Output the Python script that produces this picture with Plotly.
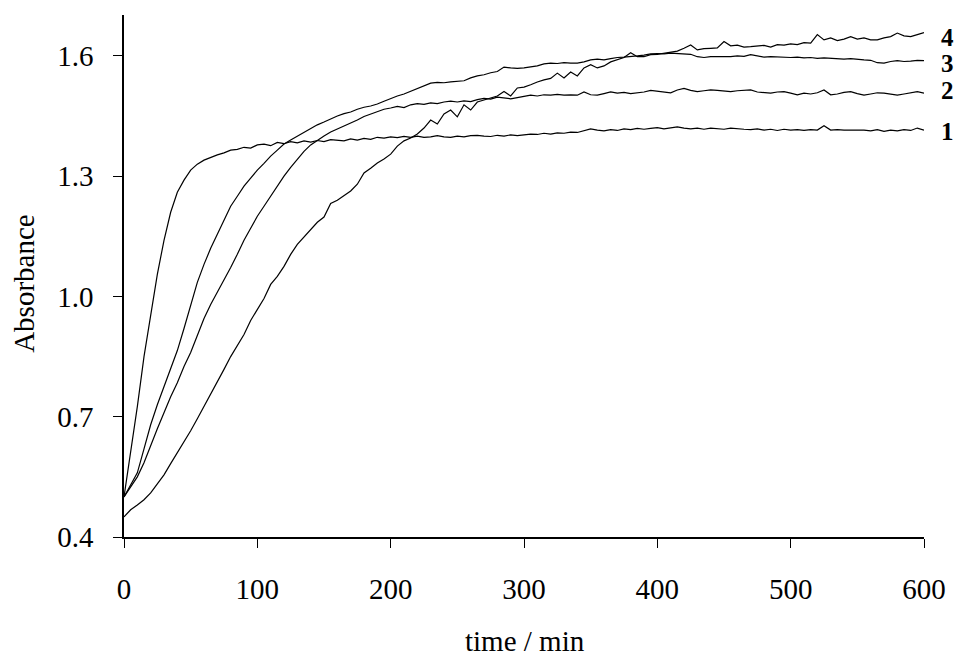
import plotly.graph_objects as go

# time grid (min), every 5 min
time_min = list(range(0, 601, 5))

curve_1 = [
    0.500, 0.610, 0.725, 0.850, 0.955, 1.055, 1.140, 1.210, 1.260, 1.290,
    1.315, 1.330, 1.340, 1.347, 1.353, 1.358, 1.365, 1.367, 1.372, 1.370,
    1.378, 1.380, 1.376, 1.384, 1.381, 1.386, 1.383, 1.388, 1.385, 1.389,
    1.386, 1.391, 1.390, 1.388, 1.393, 1.390, 1.394, 1.392, 1.397, 1.395,
    1.398, 1.396, 1.399, 1.397, 1.400, 1.397, 1.398, 1.401, 1.398, 1.397,
    1.400, 1.398, 1.401, 1.402, 1.400, 1.399, 1.402, 1.400, 1.403, 1.401,
    1.403, 1.405, 1.404, 1.407, 1.405, 1.408, 1.407, 1.410, 1.409, 1.414,
    1.418, 1.415, 1.413, 1.416, 1.414, 1.418, 1.416, 1.419, 1.417, 1.419,
    1.421, 1.418, 1.420, 1.423, 1.420, 1.418, 1.420, 1.417, 1.420, 1.418,
    1.417, 1.420, 1.418, 1.417, 1.416, 1.418, 1.415, 1.417, 1.414, 1.417,
    1.415, 1.416, 1.414, 1.416, 1.415, 1.426, 1.415, 1.416, 1.415, 1.415,
    1.414, 1.415, 1.413, 1.416, 1.412, 1.415, 1.413, 1.416, 1.414, 1.420,
    1.415,
]

curve_2 = [
    0.500, 0.525, 0.550, 0.585, 0.630, 0.670, 0.710, 0.750, 0.785, 0.825,
    0.860, 0.905, 0.945, 0.980, 1.010, 1.040, 1.072, 1.105, 1.140, 1.170,
    1.200, 1.225, 1.250, 1.278, 1.300, 1.322, 1.343, 1.362, 1.378, 1.390,
    1.400, 1.410, 1.417, 1.425, 1.432, 1.440, 1.449, 1.455, 1.462, 1.467,
    1.470, 1.474, 1.471, 1.478, 1.481, 1.479, 1.483, 1.481, 1.485, 1.487,
    1.485, 1.488, 1.486, 1.491, 1.494, 1.492, 1.497, 1.495, 1.493, 1.496,
    1.499, 1.502, 1.500, 1.503, 1.502, 1.504, 1.502, 1.503, 1.502, 1.510,
    1.503, 1.502, 1.506, 1.510, 1.507, 1.509, 1.506, 1.508, 1.510, 1.514,
    1.512, 1.511, 1.508, 1.515, 1.519, 1.514, 1.511, 1.513, 1.515, 1.514,
    1.512, 1.511, 1.513, 1.514, 1.515, 1.510, 1.508, 1.507, 1.510, 1.511,
    1.507, 1.503, 1.507, 1.505, 1.508, 1.515, 1.503, 1.505, 1.509, 1.511,
    1.506, 1.502, 1.505, 1.508, 1.507, 1.504, 1.502, 1.505, 1.508, 1.511,
    1.507,
]

curve_3 = [
    0.500, 0.530, 0.560, 0.620, 0.680, 0.730, 0.775, 0.820, 0.865, 0.920,
    0.980, 1.035, 1.080, 1.120, 1.155, 1.190, 1.225, 1.250, 1.275, 1.295,
    1.315, 1.332, 1.350, 1.365, 1.380, 1.390, 1.400, 1.410, 1.420, 1.428,
    1.435, 1.443, 1.450, 1.456, 1.460, 1.467, 1.472, 1.475, 1.480, 1.487,
    1.494, 1.500, 1.505, 1.512, 1.520, 1.527, 1.532, 1.534, 1.533, 1.535,
    1.536, 1.538, 1.545, 1.550, 1.553, 1.558, 1.561, 1.572, 1.570, 1.569,
    1.570, 1.572, 1.575, 1.580, 1.582, 1.581, 1.583, 1.582, 1.582, 1.585,
    1.590, 1.592, 1.590, 1.593, 1.596, 1.597, 1.598, 1.600, 1.602, 1.605,
    1.606, 1.605, 1.607, 1.606, 1.605, 1.604, 1.598, 1.596, 1.598, 1.598,
    1.599, 1.598, 1.600, 1.599, 1.603, 1.600, 1.597, 1.598, 1.597, 1.596,
    1.596, 1.597, 1.595, 1.596, 1.594, 1.595, 1.594, 1.593, 1.592, 1.593,
    1.591, 1.590, 1.589, 1.583, 1.582, 1.586, 1.588, 1.586, 1.587, 1.589,
    1.588,
]

curve_4 = [
    0.450, 0.468, 0.480, 0.493, 0.510, 0.533, 0.555, 0.583, 0.610, 0.635,
    0.665, 0.695, 0.725, 0.755, 0.787, 0.818, 0.850, 0.878, 0.905, 0.940,
    0.968, 0.995, 1.030, 1.050, 1.075, 1.105, 1.130, 1.148, 1.168, 1.185,
    1.198, 1.232, 1.240, 1.252, 1.263, 1.280, 1.308, 1.320, 1.333, 1.343,
    1.355, 1.375, 1.388, 1.395, 1.405, 1.420, 1.440, 1.430, 1.455, 1.465,
    1.448, 1.478, 1.465, 1.485, 1.490, 1.494, 1.500, 1.511, 1.500, 1.520,
    1.522, 1.528, 1.535, 1.540, 1.544, 1.557, 1.545, 1.560, 1.550, 1.570,
    1.578, 1.570, 1.575, 1.585, 1.590, 1.596, 1.608, 1.598, 1.598, 1.603,
    1.604, 1.607, 1.610, 1.612, 1.619, 1.627, 1.615, 1.618, 1.619, 1.620,
    1.636, 1.625, 1.627, 1.622, 1.623, 1.625, 1.626, 1.622, 1.628, 1.627,
    1.630, 1.628, 1.633, 1.632, 1.653, 1.640, 1.645, 1.638, 1.642, 1.648,
    1.642, 1.645, 1.640, 1.640, 1.645, 1.648, 1.657, 1.650, 1.648, 1.653,
    1.658,
]

curve_names = ["1", "2", "3", "4"]
label_y = [1.412, 1.513, 1.581, 1.645]
x_ticks = [0, 100, 200, 300, 400, 500, 600]
y_ticks = [0.4, 0.7, 1.0, 1.3, 1.6]
y_tick_text = ["0.4", "0.7", "1.0", "1.3", "1.6"]
X_RANGE = [0, 600]
Y_RANGE = [0.4, 1.702]

FONT = "Liberation Serif, Times New Roman, serif"

fig = go.Figure()
for name, vals in zip(curve_names, [curve_1, curve_2, curve_3, curve_4]):
    fig.add_trace(go.Scatter(
        x=time_min, y=vals, mode="lines", name=name,
        line=dict(color="black", width=1.2), showlegend=False,
    ))

# curve labels just right of the plot area (paper coords, since they lie outside the x range)
for name, yv in zip(curve_names, label_y):
    ypaper = (yv - Y_RANGE[0]) / (Y_RANGE[1] - Y_RANGE[0])
    fig.add_annotation(x=1.029, y=ypaper, xref="paper", yref="paper", text=f"<b>{name}</b>",
                       showarrow=False, xanchor="center", yanchor="middle",
                       font=dict(family=FONT, size=25, color="black"))

fig.add_annotation(x=-0.125, y=0.485, xref="paper", yref="paper", text="Absorbance",
                   textangle=-90, showarrow=False, xanchor="center", yanchor="middle",
                   font=dict(family=FONT, size=29, color="black"))
fig.add_annotation(x=0.501, y=-0.199, xref="paper", yref="paper", text="time / min",
                   showarrow=False, xanchor="center", yanchor="middle",
                   font=dict(family=FONT, size=29, color="black"))

fig.update_layout(
    template="none",
    width=954, height=657,
    margin=dict(l=124, r=30, t=15, b=120, autoexpand=False),
    paper_bgcolor="white", plot_bgcolor="white",
    font=dict(family=FONT, size=29, color="black"),
    xaxis=dict(range=X_RANGE, tickvals=x_ticks, showgrid=False, zeroline=False,
               automargin=False,
               showline=True, linecolor="black", linewidth=1.5,
               ticks="outside", ticklen=9, tickwidth=1.2, tickcolor="black",
               ticklabelstandoff=16, tickfont=dict(family=FONT, size=29, color="black")),
    yaxis=dict(range=Y_RANGE, tickvals=y_ticks, ticktext=y_tick_text,
               showgrid=False, zeroline=False, automargin=False,
               showline=True, linecolor="black", linewidth=1.5,
               ticks="outside", ticklen=9, tickwidth=1.2, tickcolor="black",
               ticklabelstandoff=14, tickfont=dict(family=FONT, size=29, color="black")),
)

# remove the default 8px page margin so the figure fills the 954x657 window exactly
fig.write_html(
    "out.html",
    config={"displayModeBar": False},
    post_script="document.body.style.margin='0';document.body.style.overflow='hidden';",
)
